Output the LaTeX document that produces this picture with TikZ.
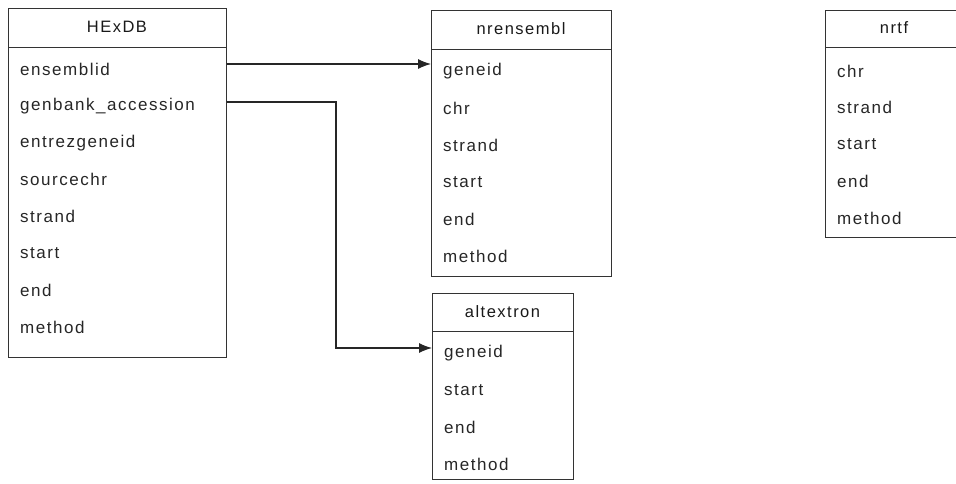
\documentclass[tikz,border=0pt]{standalone}
\usepackage{fontspec}
\setmainfont{Liberation Sans}[LetterSpace=9]
\usetikzlibrary{arrows.meta}
\begin{document}
\begin{tikzpicture}[x=1pt,y=-1pt,
  tbl/.style={draw=black!80, line width=0.8pt, rectangle, anchor=north west, inner sep=0pt},
  ttl/.style={font=\fontsize{16.5}{18}\selectfont, text=black!90, inner sep=0pt},
  fld/.style={font=\fontsize{17}{18}\selectfont, text=black!85, anchor=west, inner sep=0pt},
  hline/.style={draw=black!80, line width=0.8pt},
  arr/.style={draw=black!85, line width=1.1pt, -{Latex[length=13pt,width=10pt]}}]
\useasboundingbox (0,0) rectangle (956,483);

% HExDB
\node[tbl, minimum width=218pt, minimum height=349pt] (hexdb) at (8,8) {};
\draw[hline] (hexdb.west |- 0,47) -- (hexdb.east |- 0,47);
\node[ttl] (hexdbt) at (117,27) {HExDB};
\node[fld] (h1) at (20,69.5) {ensemblid};
\node[fld] (h2) at (20,106.3) {genbank\_accession};
\node[fld] (h3) at (20,143.1) {entrezgeneid};
\node[fld] (h4) at (20,179.9) {sourcechr};
\node[fld] (h5) at (20,216.7) {strand};
\node[fld] (h6) at (20,253.5) {start};
\node[fld] (h7) at (20,290.3) {end};
\node[fld] (h8) at (20,327.1) {method};

% nrensembl
\node[tbl, minimum width=180pt, minimum height=266pt] (nrens) at (431,10) {};
\draw[hline] (nrens.west |- 0,49) -- (nrens.east |- 0,49);
\node[ttl] (nrenst) at (521,29) {nrensembl};
\node[fld] (n1) at (443,71) {geneid};
\node[fld] (n2) at (443,108) {chr};
\node[fld] (n3) at (443,145) {strand};
\node[fld] (n4) at (443,182) {start};
\node[fld] (n5) at (443,219) {end};
\node[fld] (n6) at (443,256) {method};

% altextron
\node[tbl, minimum width=141pt, minimum height=186pt] (altex) at (432,293) {};
\draw[hline] (altex.west |- 0,331) -- (altex.east |- 0,331);
\node[ttl] (altext) at (502.5,312) {altextron};
\node[fld] (a1) at (444,353) {geneid};
\node[fld] (a2) at (444,390) {start};
\node[fld] (a3) at (444,427) {end};
\node[fld] (a4) at (444,464) {method};

% nrtf (cut at right edge)
\node[tbl, minimum width=140pt, minimum height=227pt] (nrtf) at (825,10) {};
\draw[hline] (nrtf.west |- 0,47) -- (nrtf.east |- 0,47);
\node[ttl] (nrtft) at (894,28) {nrtf};
\node[fld] (t1) at (837,71) {chr};
\node[fld] (t2) at (837,107) {strand};
\node[fld] (t3) at (837,144) {start};
\node[fld] (t4) at (837,181) {end};
\node[fld] (t5) at (837,218) {method};

% connectors
\coordinate (c1) at (0,64);
\coordinate (c2) at (0,102);
\coordinate (c3) at (336,102);
\coordinate (c4) at (336,348);
\draw[arr] (hexdb.east |- c1) -- (nrens.west |- c1);
\draw[arr] (hexdb.east |- c2) -- (c3) -- (c4) -- (altex.west |- c4);
\end{tikzpicture}
\end{document}
